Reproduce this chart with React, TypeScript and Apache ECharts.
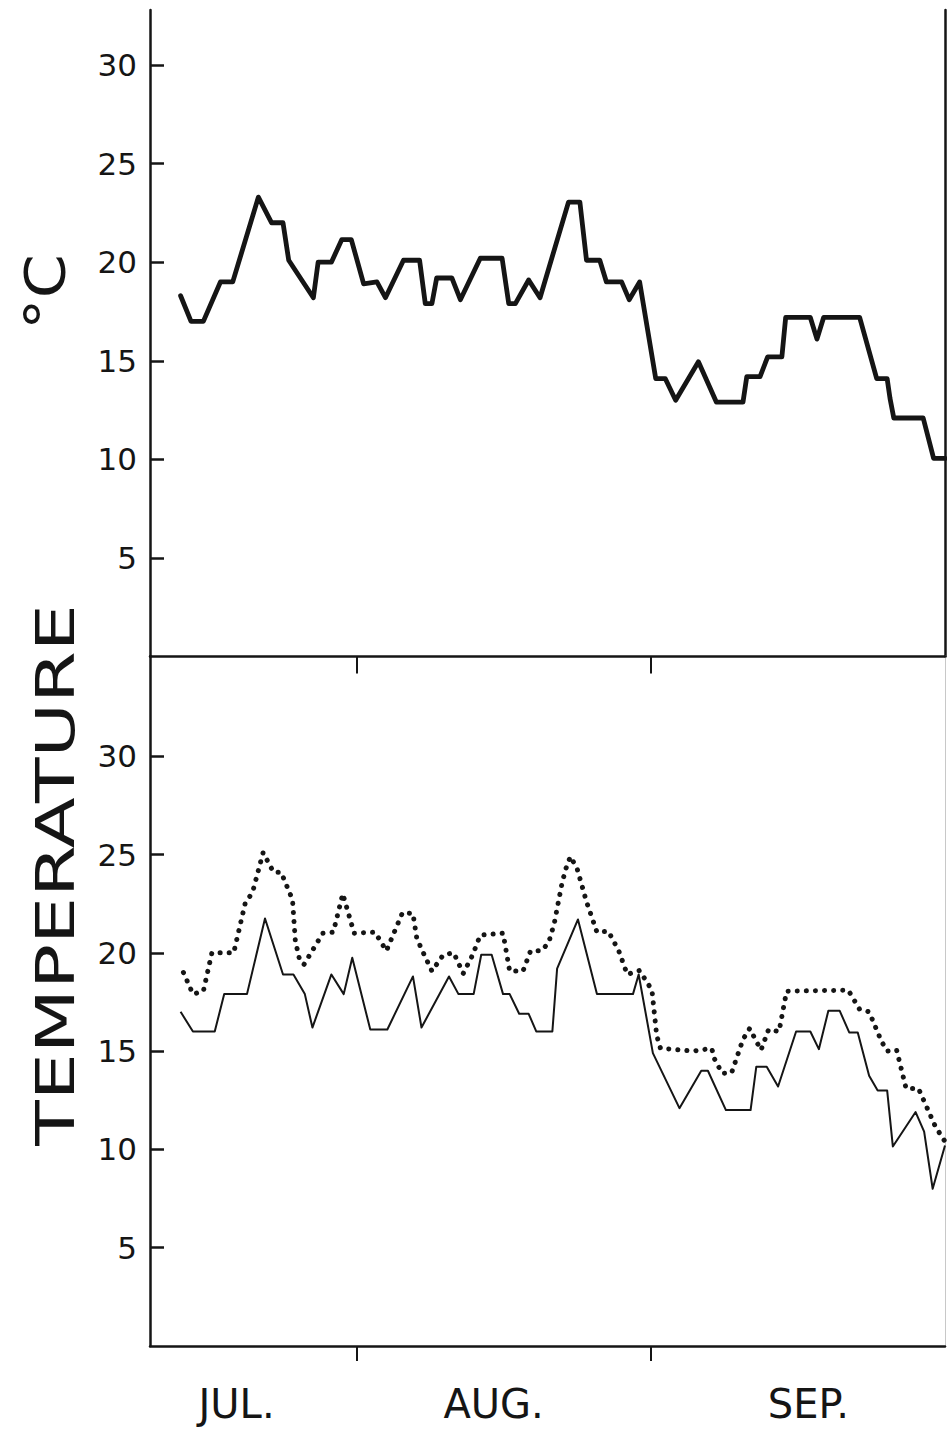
import React, { useEffect, useRef } from "react";
import * as echarts from "echarts";

// x values are days counted from 1 July (1 Aug = 31, 1 Sep = 62)
const monthTickDays = [31, 62];
const monthLabelDays = [18.3, 45.4, 78.6];
const monthLabels = ["JUL.", "AUG.", "SEP."];
const tempTicks = [5, 10, 15, 20, 25, 30];

// Upper panel
const topDays = [12.4, 13.5, 14.8, 16.6, 17.9, 20.6, 22.0, 23.2, 23.8, 26.4, 26.9, 28.3, 29.4, 30.4, 31.7, 33.1, 34.0, 35.9, 37.6, 38.2, 38.9, 39.4, 41.0, 41.9, 44.0, 46.3, 47.0, 47.7, 49.1, 50.3, 53.3, 54.5, 55.2, 56.6, 57.3, 58.9, 59.7, 60.8, 62.5, 63.5, 64.6, 67.0, 68.9, 71.7, 72.1, 73.5, 74.3, 75.8, 76.2, 78.8, 79.5, 80.2, 84.0, 85.8, 86.9, 87.2, 87.6, 90.7, 91.8, 93.0];
const topTemps = [18.3, 17.0, 17.0, 19.0, 19.0, 23.3, 22.0, 22.0, 20.1, 18.2, 20.0, 20.0, 21.15, 21.15, 18.9, 19.0, 18.2, 20.1, 20.1, 17.9, 17.9, 19.2, 19.2, 18.1, 20.2, 20.2, 17.9, 17.9, 19.1, 18.2, 23.05, 23.05, 20.1, 20.1, 19.0, 19.0, 18.1, 19.0, 14.1, 14.1, 13.0, 14.95, 12.9, 12.9, 14.2, 14.2, 15.2, 15.2, 17.2, 17.2, 16.1, 17.2, 17.2, 14.1, 14.1, 13.1, 12.1, 12.1, 10.05, 10.05];

// Lower panel, solid line
const lowDays = [12.4, 13.7, 16.0, 17.0, 19.4, 21.3, 23.2, 24.3, 25.5, 26.3, 28.3, 29.6, 30.5, 32.4, 34.2, 36.9, 37.8, 40.7, 41.7, 43.3, 44.1, 45.2, 46.4, 47.1, 48.1, 49.1, 49.9, 51.6, 52.1, 54.3, 56.3, 60.1, 60.7, 62.2, 65.0, 67.3, 68.0, 69.9, 72.5, 73.1, 74.2, 75.4, 77.3, 78.8, 79.7, 80.7, 81.9, 82.9, 83.8, 85.0, 85.9, 86.9, 87.5, 89.9, 90.8, 91.7, 93.0];
const lowTemps = [17.0, 16.0, 16.0, 17.9, 17.9, 21.75, 18.9, 18.9, 17.9, 16.2, 18.9, 17.9, 19.75, 16.1, 16.1, 18.8, 16.2, 18.8, 17.9, 17.9, 19.9, 19.9, 17.9, 17.9, 16.9, 16.9, 16.0, 16.0, 19.2, 21.7, 17.9, 17.9, 18.9, 14.9, 12.1, 14.0, 14.0, 12.0, 12.0, 14.2, 14.2, 13.2, 16.0, 16.0, 15.1, 17.05, 17.05, 15.95, 15.95, 13.75, 13.0, 13.0, 10.15, 11.9, 10.9, 8.0, 10.2];

// Lower panel, dotted line
const dotDays = [12.7, 13.7, 14.8, 15.7, 18.0, 19.2, 20.0, 21.1, 22.2, 23.0, 24.2, 24.5, 24.9, 25.4, 27.4, 28.5, 29.5, 30.7, 32.9, 34.1, 35.8, 36.9, 37.3, 37.8, 38.9, 40.1, 41.2, 42.2, 43.2, 44.0, 46.4, 47.1, 48.5, 49.3, 50.4, 51.2, 51.8, 52.6, 53.0, 53.5, 54.2, 55.2, 56.3, 57.5, 58.6, 59.5, 60.8, 62.1, 62.6, 63.0, 64.2, 66.4, 68.4, 68.7, 69.5, 70.5, 71.7, 72.4, 73.6, 74.4, 75.5, 76.3, 82.8, 84.0, 85.0, 86.3, 86.9, 87.9, 88.9, 90.2, 92.0, 93.0];
const dotTemps = [19.0, 17.9, 18.05, 20.0, 20.0, 22.5, 23.1, 25.1, 24.1, 24.1, 22.7, 20.6, 19.75, 19.4, 21.0, 21.05, 23.0, 21.0, 21.05, 20.1, 22.05, 22.0, 20.75, 20.2, 19.07, 19.9, 20.0, 18.95, 19.9, 20.9, 21.0, 19.07, 19.07, 20.1, 20.1, 20.5, 21.5, 23.5, 24.25, 24.9, 24.3, 22.6, 21.05, 21.1, 20.1, 18.9, 19.1, 18.1, 15.8, 15.14, 15.1, 15.0, 15.14, 14.6, 13.87, 13.9, 15.6, 16.15, 15.05, 16.1, 16.0, 18.05, 18.1, 17.12, 17.0, 15.5, 15.0, 15.05, 13.1, 13.1, 11.15, 10.4];

const ink = "#151515";
const fontFamily = "DejaVu Sans";
const zip = (xs: number[], ys: number[]) => xs.map((x, i) => [x, ys[i]]);

const X_MIN = 9.174;
const X_MAX = 93.0;

function monthName(v: number) {
  let best = 0;
  for (let i = 1; i < monthLabelDays.length; i++) {
    if (Math.abs(monthLabelDays[i] - v) < Math.abs(monthLabelDays[best] - v)) best = i;
  }
  return monthLabels[best];
}

const axisLineStyle = { color: ink, width: 2.5 };

export default function App() {
  const ref = useRef<HTMLDivElement>(null);
  useEffect(() => {
    const chart = echarts.init(ref.current!, null, { renderer: "svg" });
    const option: any = {
      animation: false,
      backgroundColor: "#ffffff",
      grid: [
        { left: 150, right: 2, top: 10, height: 646.6 },
        { left: 150, right: 2, top: 656, height: 690 },
      ],
      xAxis: [
        {
          gridIndex: 0, type: "value", min: X_MIN, max: X_MAX,
          axisLine: { show: true, onZero: false, lineStyle: axisLineStyle },
          axisTick: { show: true, customValues: monthTickDays, length: 17, lineStyle: { color: ink, width: 2 } },
          axisLabel: { show: false },
          splitLine: { show: false },
        },
        {
          gridIndex: 1, type: "value", min: X_MIN, max: X_MAX,
          axisLine: { show: true, onZero: false, lineStyle: axisLineStyle },
          axisTick: { show: true, customValues: monthTickDays, length: 15, lineStyle: { color: ink, width: 2 } },
          axisLabel: {
            show: true, customValues: monthLabelDays, formatter: (v: number) => monthName(v),
            fontSize: 40, lineHeight: 40, fontFamily, color: ink, margin: 38,
          },
          splitLine: { show: false },
        },
      ],
      yAxis: [
        {
          gridIndex: 0, type: "value", min: 0, max: 32.79,
          axisLine: { show: true, onZero: false, lineStyle: axisLineStyle },
          axisTick: { show: true, inside: true, length: 14, customValues: tempTicks, lineStyle: { color: ink, width: 2.5 } },
          axisLabel: { show: true, customValues: tempTicks, fontSize: 31, fontFamily, color: ink, margin: 13 },
          splitLine: { show: false },
        },
        {
          gridIndex: 0, type: "value", position: "right", min: 0, max: 32.79,
          axisLine: { show: true, onZero: false, lineStyle: axisLineStyle },
          axisTick: { show: false }, axisLabel: { show: false }, splitLine: { show: false },
        },
        {
          gridIndex: 1, type: "value", min: 0, max: 35.1,
          axisLine: { show: true, onZero: false, lineStyle: axisLineStyle },
          axisTick: { show: true, inside: true, length: 14, customValues: tempTicks, lineStyle: { color: ink, width: 2.5 } },
          axisLabel: { show: true, customValues: tempTicks, fontSize: 31, fontFamily, color: ink, margin: 13 },
          splitLine: { show: false },
        },
        {
          gridIndex: 1, type: "value", position: "right", min: 0, max: 35.1,
          axisLine: { show: true, onZero: false, lineStyle: { color: "#c8c8c8", width: 1 } },
          axisTick: { show: false }, axisLabel: { show: false }, splitLine: { show: false },
        },
      ],
      series: [
        {
          type: "line", xAxisIndex: 0, yAxisIndex: 0, data: zip(topDays, topTemps),
          symbol: "none", lineStyle: { color: ink, width: 4.8, join: "round", cap: "round" },
        },
        {
          type: "line", xAxisIndex: 1, yAxisIndex: 2, data: zip(lowDays, lowTemps),
          symbol: "none", lineStyle: { color: ink, width: 2, join: "round" },
        },
        {
          type: "line", xAxisIndex: 1, yAxisIndex: 2, data: zip(dotDays, dotTemps),
          symbol: "none", lineStyle: { color: ink, width: 5, type: [0.1, 9], cap: "round", join: "round" },
        },
      ],
      graphic: [
        {
          type: "text", x: 55, y: 875, rotation: Math.PI / 2, scaleX: 1.38,
          style: {
            text: "TEMPERATURE", fontSize: 54, fontFamily, fill: ink,
            align: "center", verticalAlign: "middle", textAlign: "center", textVerticalAlign: "middle",
          },
        },
        {
          type: "text", x: 45, y: 292, rotation: Math.PI / 2, scaleX: 1.15,
          style: {
            text: "°C", fontSize: 55, fontFamily, fill: ink,
            align: "center", verticalAlign: "middle", textAlign: "center", textVerticalAlign: "middle",
          },
        },
      ],
    };
    chart.setOption(option);
    return () => chart.dispose();
  }, []);
  return (
    <div
      ref={ref}
      style={{ position: "absolute", left: 0, top: 0, width: 947, height: 1431, background: "#fff" }}
    />
  );
}
